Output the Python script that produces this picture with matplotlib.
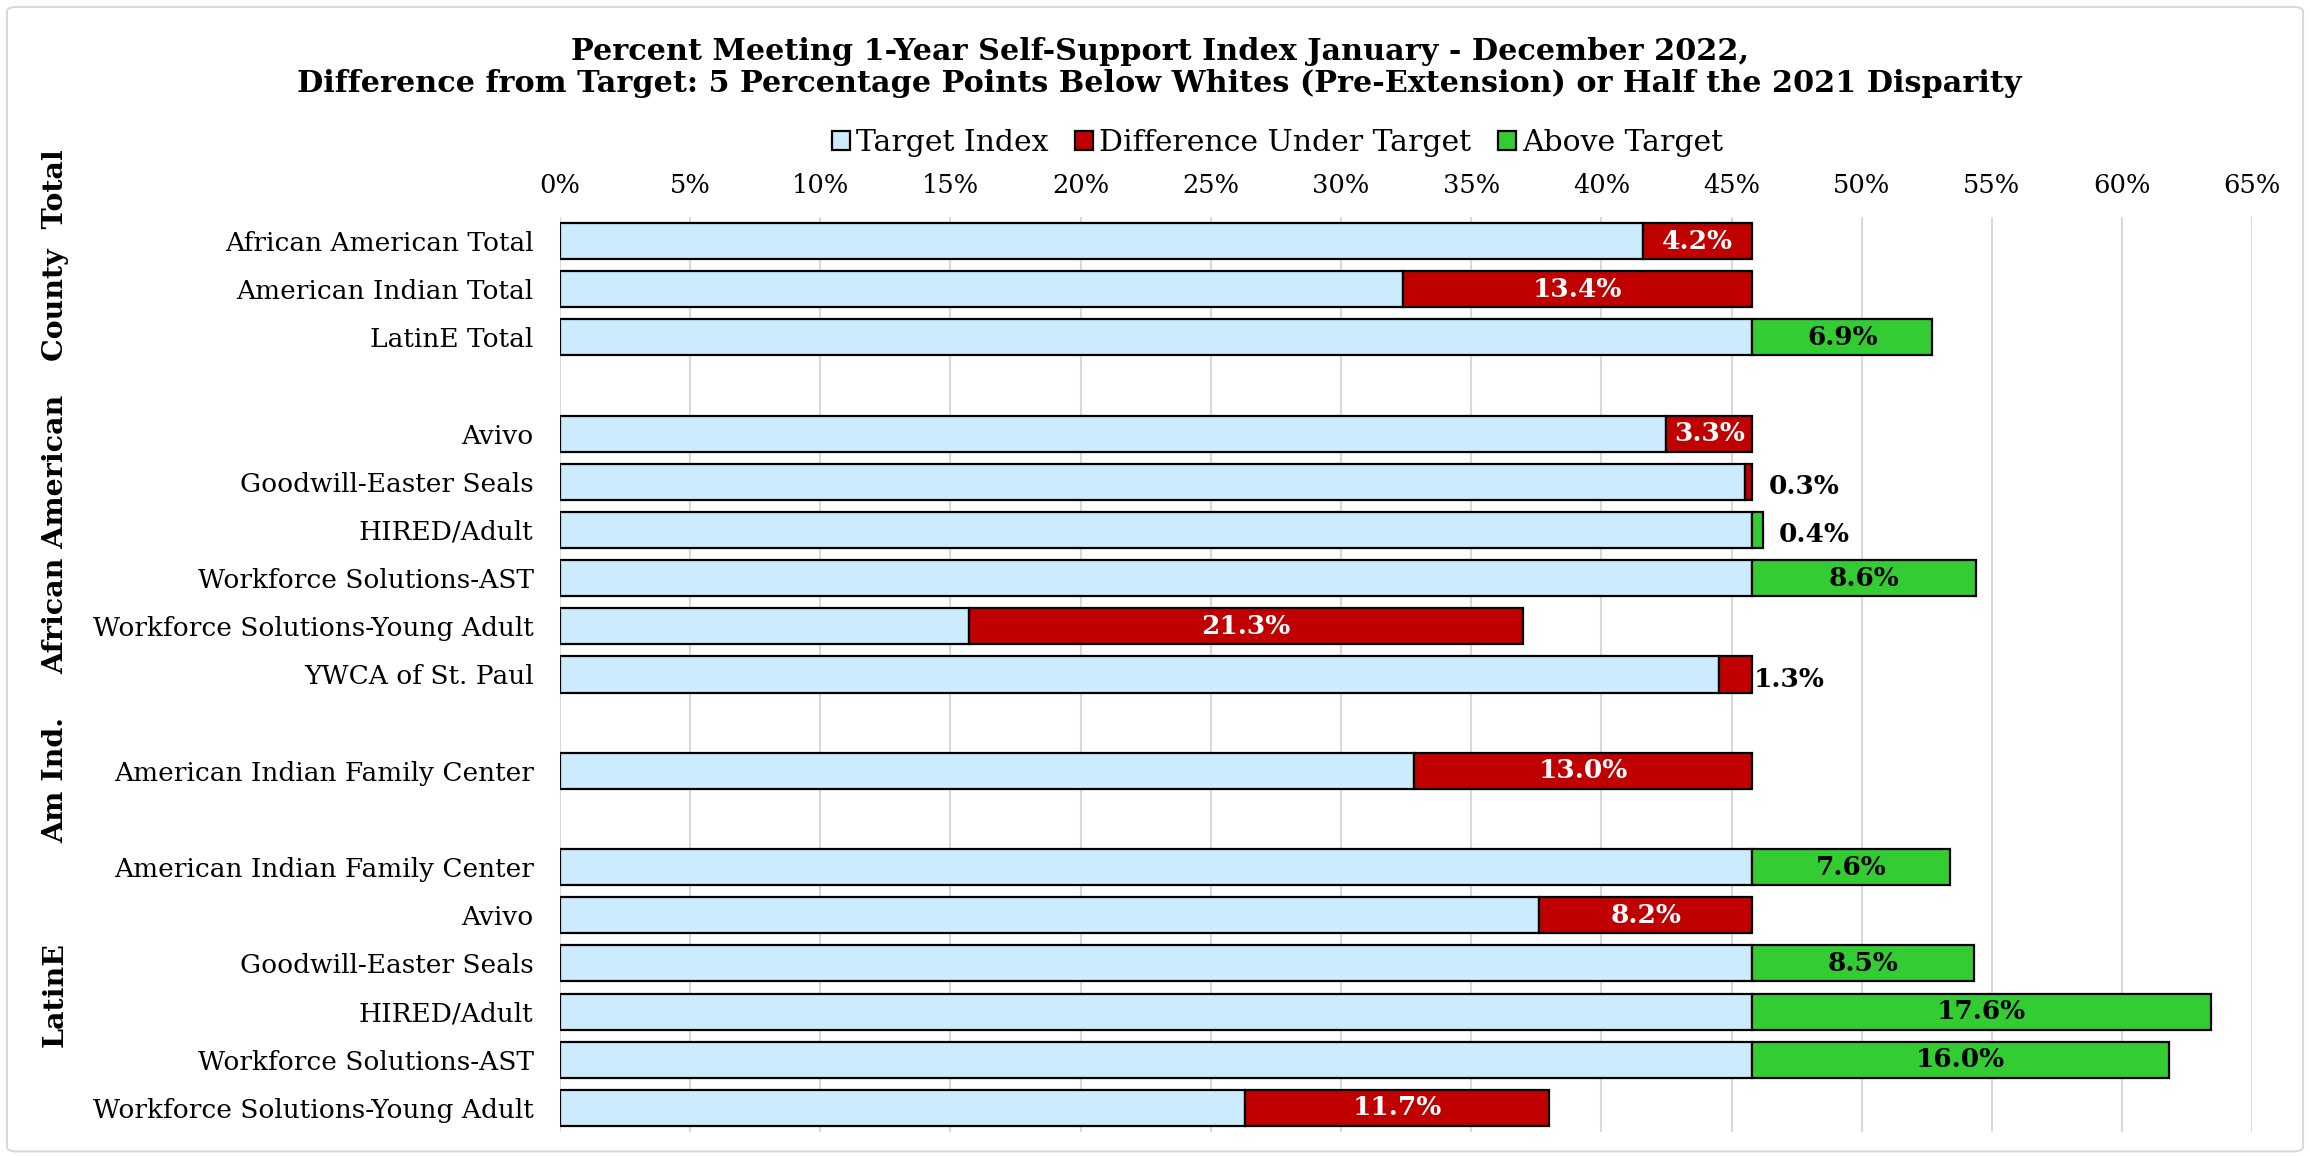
import numpy as np
import matplotlib
matplotlib.use('Agg')
import matplotlib.pyplot as plt
from matplotlib.patches import FancyBboxPatch
from matplotlib.transforms import blended_transform_factory

plt.rcParams['font.family'] = 'DejaVu Serif'

# rows top to bottom, '' rows are spacers between groups
labels = ["African American Total", "American Indian Total", "LatinE Total", "",
          "Avivo", "Goodwill-Easter Seals", "HIRED/Adult", "Workforce Solutions-AST",
          "Workforce Solutions-Young Adult", "YWCA of St. Paul", "",
          "American Indian Family Center", "",
          "American Indian Family Center", "Avivo", "Goodwill-Easter Seals",
          "HIRED/Adult", "Workforce Solutions-AST", "Workforce Solutions-Young Adult"]
target_index = [41.6, 32.4, 45.8, 0, 42.5, 45.5, 45.8, 45.8, 15.7, 44.5, 0,
                32.8, 0, 45.8, 37.6, 45.8, 45.8, 45.8, 26.3]
under_target = [4.2, 13.4, 0, 0, 3.3, 0.3, 0, 0, 21.3, 1.3, 0,
                13.0, 0, 0, 8.2, 0, 0, 0, 11.7]
above_target = [0, 0, 6.9, 0, 0, 0, 0.4, 8.6, 0, 0, 0,
                0, 0, 7.6, 0, 8.5, 17.6, 16.0, 0]
groups = ["County  Total", "African American", "Am Ind.", "LatinE"]
group_rows = [(0, 2), (4, 9), (11, 11), (13, 18)]

blue = '#CCEBFD'
red = '#C00000'
green = '#33CC33'

y = np.arange(len(labels))
tgt = np.array(target_index)
und = np.array(under_target)
abv = np.array(above_target)

fig = plt.figure(figsize=(23.1, 11.56), dpi=100)
ax = fig.add_axes([0.2424, 0.0208, 0.7326, 0.7915])

h = 0.75
m = tgt > 0
b1 = ax.barh(y[m], tgt[m], height=h, color=blue, edgecolor='black', linewidth=1.6,
             label='Target Index')
m = und > 0
b2 = ax.barh(y[m], und[m], left=tgt[m], height=h, color=red, edgecolor='black',
             linewidth=1.6, label='Difference Under Target')
m = abv > 0
b3 = ax.barh(y[m], abv[m], left=tgt[m], height=h, color=green, edgecolor='black',
             linewidth=1.6, label='Above Target')

# value labels
for i in range(len(labels)):
    for v, c in ((und[i], 'white'), (abv[i], 'black')):
        if v <= 0:
            continue
        end = tgt[i] + v
        if v < 2:
            off = 1 if (v == 1.3) else 16
            ax.annotate(f'{v:.1f}%', (end, y[i] + 0.1), xytext=(off * 0.72, 0),
                        textcoords='offset points', ha='left', va='center',
                        fontsize=19, fontweight='bold', color='black')
        else:
            ax.text(tgt[i] + v / 2, y[i], f'{v:.1f}%', ha='center', va='center',
                    fontsize=19, fontweight='bold', color=c)

ax.set_xlim(0, 65)
ax.set_ylim(18.5, -0.5)
ax.set_xticks(np.arange(0, 66, 5))
ax.set_xticklabels([f'{t}%' for t in range(0, 66, 5)])
ax.xaxis.tick_top()
ax.set_yticks(y)
ax.set_yticklabels(labels)
ax.tick_params(axis='x', length=0, labelsize=18.5, pad=14)
ax.tick_params(axis='y', length=0, labelsize=19, pad=19)
ax.grid(axis='x', color='#d9d9d9', linewidth=1.5)
ax.set_axisbelow(True)
for s in ax.spines.values():
    s.set_visible(False)

# group labels on the left
tr = blended_transform_factory(fig.transFigure, ax.transData)
shift = [-0.7, -0.4, 0.2, 0.15]
for g, (a, b), d in zip(groups, group_rows, shift):
    ax.text(0.024, (a + b) / 2 + d, g, transform=tr, rotation=90, ha='center',
            va='center', fontsize=20.5, fontweight='bold')

fig.suptitle('Percent Meeting 1-Year Self-Support Index January - December 2022,\n'
             'Difference from Target: 5 Percentage Points Below Whites (Pre-Extension) '
             'or Half the 2021 Disparity',
             x=0.502, y=0.968, fontsize=21.8, fontweight='bold', linespacing=1.15)

fig.legend(handles=[b1, b2, b3], loc='center', bbox_to_anchor=(0.553, 0.876), ncol=3,
           frameon=False, fontsize=21.5, handlelength=0.6, handleheight=0.6,
           handletextpad=0.2, columnspacing=0.9)

fig.patches.append(FancyBboxPatch((0.003, 0.004), 0.994, 0.99, boxstyle='round,pad=0,rounding_size=0.004',
                                  transform=fig.transFigure, fill=False,
                                  edgecolor='#d9d9d9', linewidth=1.5))

fig.savefig('out.png', dpi=100)
